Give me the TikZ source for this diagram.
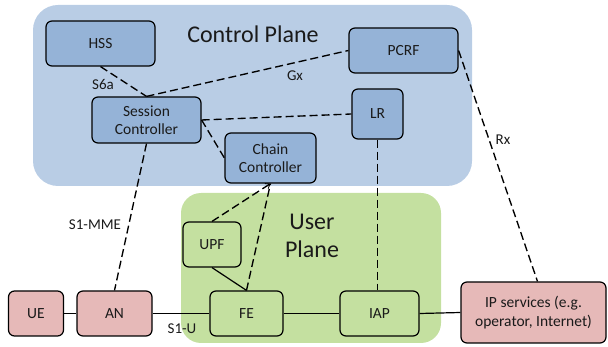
\documentclass[tikz,border=0pt]{standalone}
\usepackage{fontspec}
\setmainfont{Carlito}
\usetikzlibrary{arrows.meta}
\definecolor{cpfill}{HTML}{B9CDE5}
\definecolor{upfill}{HTML}{C4E0A0}
\definecolor{bluenode}{HTML}{95B3D7}
\definecolor{pinknode}{HTML}{E6B9B8}
\definecolor{txt}{HTML}{1A1A1A}
\begin{document}
\begin{tikzpicture}[x=1pt,y=-1pt,
  box/.style={draw=black,line width=1.2pt,rounded corners=6pt,inner sep=1pt,
    align=center,font=\fontsize{15.5}{18.5}\selectfont,text=txt},
  bluebox/.style={box,fill=bluenode},
  pinkbox/.style={box,fill=pinknode},
  greenbox/.style={box,fill=upfill},
  dline/.style={line width=1.35pt,dash pattern=on 8pt off 4pt},
  sline/.style={line width=1.2pt},
  lbl/.style={font=\fontsize{15}{17}\selectfont,text=txt,inner sep=0pt},
  title/.style={font=\fontsize{24}{28}\selectfont,text=txt,align=center,inner sep=0pt}]
\useasboundingbox (0,0) rectangle (608,347);

% plane backgrounds
\fill[cpfill,rounded corners=25pt] (33,5) rectangle (472,186);
\fill[upfill,rounded corners=20pt] (181,193) rectangle (441,343);
\node[title] (cptitle) at (253,34) {Control Plane};
\node[title] (uptitle) at (312,236) {User\\Plane};

% control plane functions
\node[bluebox,minimum width=109pt,minimum height=45pt] (hss) at (100.5,43.5) {HSS};
\node[bluebox,minimum width=109pt,minimum height=45pt] (pcrf) at (403.5,50.5) {PCRF};
\node[bluebox,minimum width=109pt,minimum height=46pt] (sc) at (146.5,120) {Session\\Controller};
\node[bluebox,minimum width=51pt,minimum height=50pt] (lr) at (377.5,114) {LR};
\node[bluebox,minimum width=91pt,minimum height=50pt] (cc) at (270.5,158) {Chain\\Controller};

% user plane functions
\node[greenbox,minimum width=58pt,minimum height=45pt] (upf) at (212,244.5) {UPF};
\node[greenbox,minimum width=73pt,minimum height=45pt] (fe) at (246.5,313.5) {FE};
\node[greenbox,minimum width=79pt,minimum height=45pt] (iap) at (379.5,313.5) {IAP};

% access and external
\node[pinkbox,minimum width=55pt,minimum height=45pt] (ue) at (36,313.5) {UE};
\node[pinkbox,minimum width=75pt,minimum height=45pt] (an) at (114.5,313.5) {AN};
\node[pinkbox,minimum width=145pt,minimum height=61pt] (ip) at (533.5,312.5) {IP services (e.g.\\operator, Internet)};

% control interfaces
\draw[dline] (hss.south) -- (sc.north);
\draw[dline] (sc.north) -- (pcrf.west);
\draw[dline] (sc.east) -- (lr.west);
\draw[dline] (sc.east) -- (cc.west);
\draw[dline] (sc.south) -- (an.north);
\draw[dline] (pcrf.east) -- ([xshift=4pt]ip.north);
\draw[dline] (lr.south) -- (lr.south |- iap.north);
\draw[dline,-{Straight Barb[length=4pt,width=6pt,line width=0.8pt]}] (upf.north) -- (cc.south);
\draw[dline] (fe.north) -- (cc.south);

% user plane links
\draw[sline] (upf.south) -- (fe.north);
\draw[sline] (ue.east) -- (an.west);
\draw[sline] (an.east) -- (fe.west);
\draw[sline] (fe.east) -- (iap.west);
\draw[sline] (iap.east) -- (ip.west);

% interface labels
\node[lbl] (s6a) at (103,84) {S6a};
\node[lbl] (gx) at (295,76) {Gx};
\node[lbl] (rx) at (503,140) {Rx};
\node[lbl] (s1mme) at (95,225) {S1-MME};
\node[lbl] (s1u) at (182,329) {S1-U};
\end{tikzpicture}
\end{document}
